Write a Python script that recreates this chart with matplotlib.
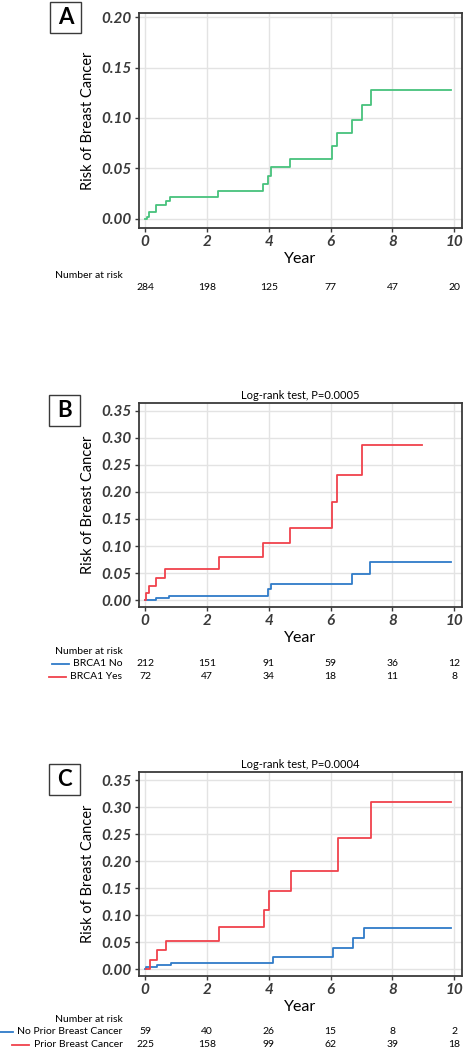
import matplotlib
matplotlib.use("Agg")
import matplotlib.pyplot as plt
from matplotlib.lines import Line2D
from matplotlib.patches import Rectangle
from matplotlib.transforms import blended_transform_factory

plt.rcParams["font.family"] = ["Lato", "DejaVu Sans"]

# ── Data ───────────────────────────────────────────────────────────────────────
years_ticks = [0, 2, 4, 6, 8, 10]

# Panel A: all patients
a_time = [0.00, 0.05, 0.12, 0.34, 0.66, 0.80, 2.37, 3.81, 3.97, 4.08, 4.69,
          6.06, 6.20, 6.69, 7.03, 7.30, 9.89]
a_risk = [0.000, 0.002, 0.007, 0.014, 0.018, 0.022, 0.028, 0.035, 0.043, 0.051,
          0.059, 0.072, 0.085, 0.098, 0.113, 0.128, 0.128]
a_at_risk = [284, 198, 125, 77, 47, 20]

# Panel B: BRCA1 status
b_no_time = [0.00, 0.34, 0.77, 3.97, 4.08, 6.69, 7.28, 9.89]
b_no_risk = [0.000, 0.004, 0.008, 0.020, 0.030, 0.049, 0.071, 0.071]
b_yes_time = [0.00, 0.02, 0.11, 0.34, 0.63, 2.38, 3.81, 4.69, 6.06, 6.19, 7.03, 8.95]
b_yes_risk = [0.000, 0.013, 0.027, 0.041, 0.057, 0.080, 0.106, 0.134, 0.182,
              0.231, 0.286, 0.286]
b_no_at_risk = [212, 151, 91, 59, 36, 12]
b_yes_at_risk = [72, 47, 34, 18, 11, 8]
b_pvalue = "Log-rank test, P=0.0005"

# Panel C: prior breast cancer
c_no_time = [0.00, 0.04, 0.37, 0.82, 4.12, 6.09, 6.73, 7.08, 9.88]
c_no_risk = [0.000, 0.004, 0.008, 0.012, 0.023, 0.039, 0.057, 0.076, 0.076]
c_yes_time = [0.03, 0.16, 0.37, 0.67, 2.40, 3.83, 4.01, 4.72, 6.23, 7.32, 9.88]
c_yes_risk = [0.000, 0.017, 0.035, 0.053, 0.078, 0.110, 0.144, 0.182, 0.242,
              0.310, 0.310]
c_no_at_risk = [59, 40, 26, 15, 8, 2]
c_yes_at_risk = [225, 158, 99, 62, 39, 18]
c_pvalue = "Log-rank test, P=0.0004"

# ── Style ──────────────────────────────────────────────────────────────────────
GREEN = "#47c27c"
BLUE = "#2f7bc8"
RED = "#f0424c"
SPINE = "#3a3a3a"
GRID = "#e3e3e3"

W, H = 464, 1050
fig = plt.figure(figsize=(W / 100, H / 100), dpi=100)


def px_box(left, top, right, bottom):
    return [left / W, 1 - bottom / H, (right - left) / W, (bottom - top) / H]


def style_ax(ax, ylim, yticks):
    ax.set_xlim(-0.2, 10.25)
    ax.set_ylim(*ylim)
    ax.set_xticks(years_ticks)
    ax.set_yticks(yticks)
    ax.set_yticklabels([f"{v:.2f}" for v in yticks])
    for lab in ax.get_xticklabels() + ax.get_yticklabels():
        lab.set_fontweight("bold")
        lab.set_fontstyle("italic")
        lab.set_fontsize(11)
    ax.tick_params(direction="out", length=3, width=1, colors=SPINE, pad=2)
    ax.grid(True, color=GRID, linewidth=1)
    ax.set_axisbelow(True)
    for s in ax.spines.values():
        s.set_color(SPINE)
        s.set_linewidth(1.3)
    ax.set_ylabel("Risk of Breast Cancer", fontsize=10.5, labelpad=5)
    ax.set_xlabel("Year", fontsize=11.5, labelpad=2)


def panel_letter(letter, left, top):
    fig.add_artist(Rectangle((left / W, 1 - (top + 31) / H), 31 / W, 31 / H,
                             transform=fig.transFigure, fill=False,
                             edgecolor=SPINE, linewidth=1))
    fig.text((left + 15.5) / W, 1 - (top + 15.5) / H, letter, ha="center",
             va="center", fontsize=16, fontweight="bold")


def risk_table(ax, top, rows):
    tr = blended_transform_factory(ax.transData, fig.transFigure)
    fig.text(122.5 / W, 1 - top / H, "Number at risk", ha="right",
             va="center", fontsize=7.5)
    for i, (label, color, counts) in enumerate(rows):
        y = 1 - (top + 12 + 12.5 * i) / H
        if label:
            t = fig.text(122.5 / W, y, label, ha="right", va="center", fontsize=7.5)
            fig.canvas.draw()
            bb = t.get_window_extent()
            x1 = bb.x0 - 4
            fig.add_artist(Line2D([(x1 - 17) / W, x1 / W], [y, y],
                                  transform=fig.transFigure, color=color,
                                  linewidth=1.3))
        for yr, n in zip(years_ticks, counts):
            ax.text(yr, y, str(n), transform=tr, ha="center", va="center",
                    fontsize=7.5)


# ── Panel A ────────────────────────────────────────────────────────────────────
axA = fig.add_axes(px_box(139, 13, 462, 228))
axA.step(a_time, a_risk, where="post", color=GREEN, linewidth=1.3)
style_ax(axA, (-0.009, 0.204), [0.00, 0.05, 0.10, 0.15, 0.20])
panel_letter("A", 50, 2)
risk_table(axA, 276, [(None, None, a_at_risk)])

# ── Panel B ────────────────────────────────────────────────────────────────────
axB = fig.add_axes(px_box(139, 403, 462, 607))
axB.step(b_no_time, b_no_risk, where="post", color=BLUE, linewidth=1.3)
axB.step(b_yes_time, b_yes_risk, where="post", color=RED, linewidth=1.3)
style_ax(axB, (-0.0124, 0.364), [0.00, 0.05, 0.10, 0.15, 0.20, 0.25, 0.30, 0.35])
axB.set_title(b_pvalue, fontsize=8, pad=3)
panel_letter("B", 49, 395)
risk_table(axB, 652, [("BRCA1 No", BLUE, b_no_at_risk),
                      ("BRCA1 Yes", RED, b_yes_at_risk)])

# ── Panel C ────────────────────────────────────────────────────────────────────
axC = fig.add_axes(px_box(139, 772, 462, 976))
axC.step(c_no_time, c_no_risk, where="post", color=BLUE, linewidth=1.3)
axC.step(c_yes_time, c_yes_risk, where="post", color=RED, linewidth=1.3)
style_ax(axC, (-0.0124, 0.365), [0.00, 0.05, 0.10, 0.15, 0.20, 0.25, 0.30, 0.35])
axC.set_title(c_pvalue, fontsize=8, pad=3)
panel_letter("C", 49, 764)
risk_table(axC, 1020, [("No Prior Breast Cancer", BLUE, c_no_at_risk),
                       ("Prior Breast Cancer", RED, c_yes_at_risk)])

fig.savefig("out.png", dpi=100)
